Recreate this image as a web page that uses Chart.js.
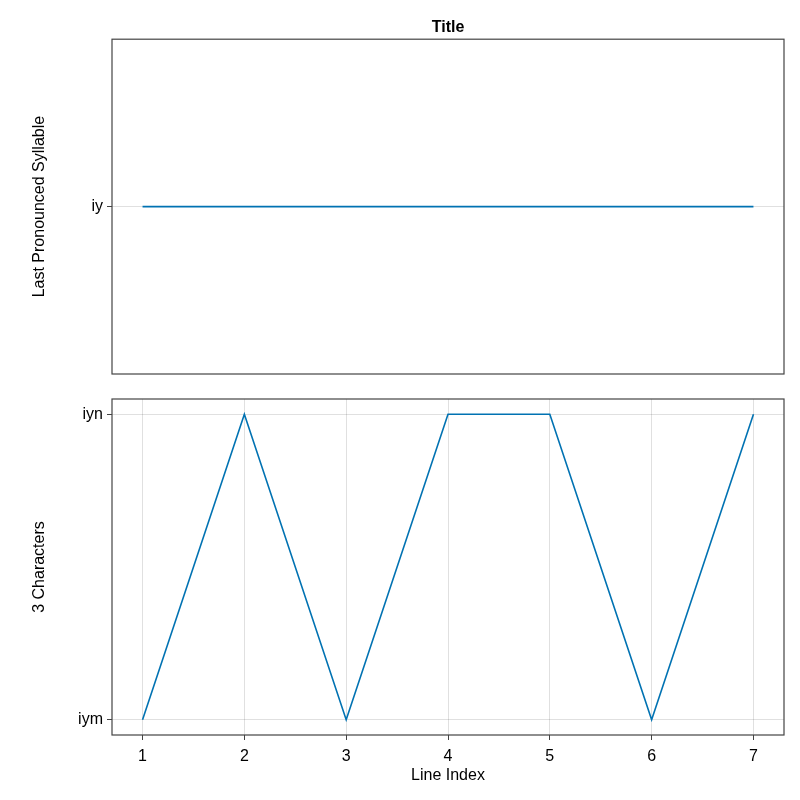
<!DOCTYPE html>
<html>
<head>
<meta charset="utf-8">
<script src="https://cdn.jsdelivr.net/npm/chart.js@4"></script>
<style>
  html, body { margin: 0; padding: 0; background: #fff; }
  #wrap { position: relative; width: 800px; height: 800px; }
  canvas { position: absolute; left: 0; }
  #c1 { top: 0; }
  #c2 { top: 385px; }
</style>
</head>
<body>
<div id="wrap">
  <canvas id="c1" width="800" height="390"></canvas>
  <canvas id="c2" width="800" height="415"></canvas>
</div>
<script>
const lineIndex = [1, 2, 3, 4, 5, 6, 7];
const topLabels = ['iy'];
const topValues = ['iy', 'iy', 'iy', 'iy', 'iy', 'iy', 'iy'];
const bottomLabels = ['iym', 'iyn'];
const bottomValues = ['iym', 'iyn', 'iym', 'iyn', 'iyn', 'iym', 'iyn'];
const xTicks = [1, 2, 3, 4, 5, 6, 7];

const FONT = 'Liberation Sans, Arial, Helvetica, sans-serif';
const LINE = 'rgb(0,114,178)';
const GRID = 'rgba(0,0,0,0.12)';
const AXIS = '#444';

Chart.defaults.font.family = FONT;
Chart.defaults.color = '#000';

const frame = {
  id: 'frame',
  afterDraw(chart) {
    const {ctx, chartArea: a} = chart;
    ctx.save();
    ctx.strokeStyle = AXIS;
    ctx.lineWidth = 1.2;
    ctx.strokeRect(a.left, a.top, a.right - a.left, a.bottom - a.top);
    ctx.restore();
  }
};

function pts(values, labels) {
  return lineIndex.map((x, i) => ({x: x, y: labels.indexOf(values[i]) + 1}));
}

function yScale(labels, min, max, title) {
  return {
    type: 'linear', min: min, max: max,
    afterBuildTicks: s => { s.ticks = labels.map((_, i) => ({value: i + 1})); },
    afterFit: s => { s.width = 112; },
    ticks: { callback: v => labels[v - 1], font: {size: 16}, padding: 4, color: '#000' },
    grid: { color: GRID, tickColor: AXIS, tickLength: 5, drawTicks: true },
    border: { display: false },
    title: { display: true, text: title, font: {size: 16}, color: '#000', padding: {top: 30, bottom: 0} }
  };
}

new Chart(document.getElementById('c1'), {
  type: 'line',
  data: { datasets: [{ data: pts(topValues, topLabels), borderColor: LINE, borderWidth: 1.6, pointRadius: 0, tension: 0 }] },
  options: {
    responsive: false, animation: false, devicePixelRatio: 1,
    layout: { padding: { left: 0, right: 16, top: 0, bottom: 16 } },
    plugins: {
      legend: { display: false }, tooltip: { enabled: false },
      title: { display: true, fullSize: false, text: 'Title', font: { size: 16, weight: 'bold' }, color: '#000', padding: { top: 18, bottom: 2 } }
    },
    scales: {
      x: { type: 'linear', min: 0.7, max: 7.3, display: false },
      y: yScale(topLabels, 0.5, 1.5, 'Last Pronounced Syllable')
    }
  },
  plugins: [frame]
});

new Chart(document.getElementById('c2'), {
  type: 'line',
  data: { datasets: [{ data: pts(bottomValues, bottomLabels), borderColor: LINE, borderWidth: 1.6, pointRadius: 0, tension: 0 }] },
  options: {
    responsive: false, animation: false, devicePixelRatio: 1,
    layout: { padding: { left: 0, right: 16, top: 14, bottom: 0 } },
    plugins: { legend: { display: false }, tooltip: { enabled: false } },
    scales: {
      x: {
        type: 'linear', min: 0.7, max: 7.3,
        afterBuildTicks: s => { s.ticks = xTicks.map(v => ({value: v})); },
        afterFit: s => { s.height = 65; },
        ticks: { font: {size: 16}, padding: 7, color: '#000', maxRotation: 0 },
        grid: { color: GRID, tickColor: AXIS, tickLength: 5 },
        border: { display: false },
        title: { display: true, text: 'Line Index', font: {size: 16}, color: '#000', padding: {top: 0, bottom: 15} }
      },
      y: yScale(bottomLabels, 0.95, 2.05, '3 Characters')
    }
  },
  plugins: [frame]
});
</script>
</body>
</html>
